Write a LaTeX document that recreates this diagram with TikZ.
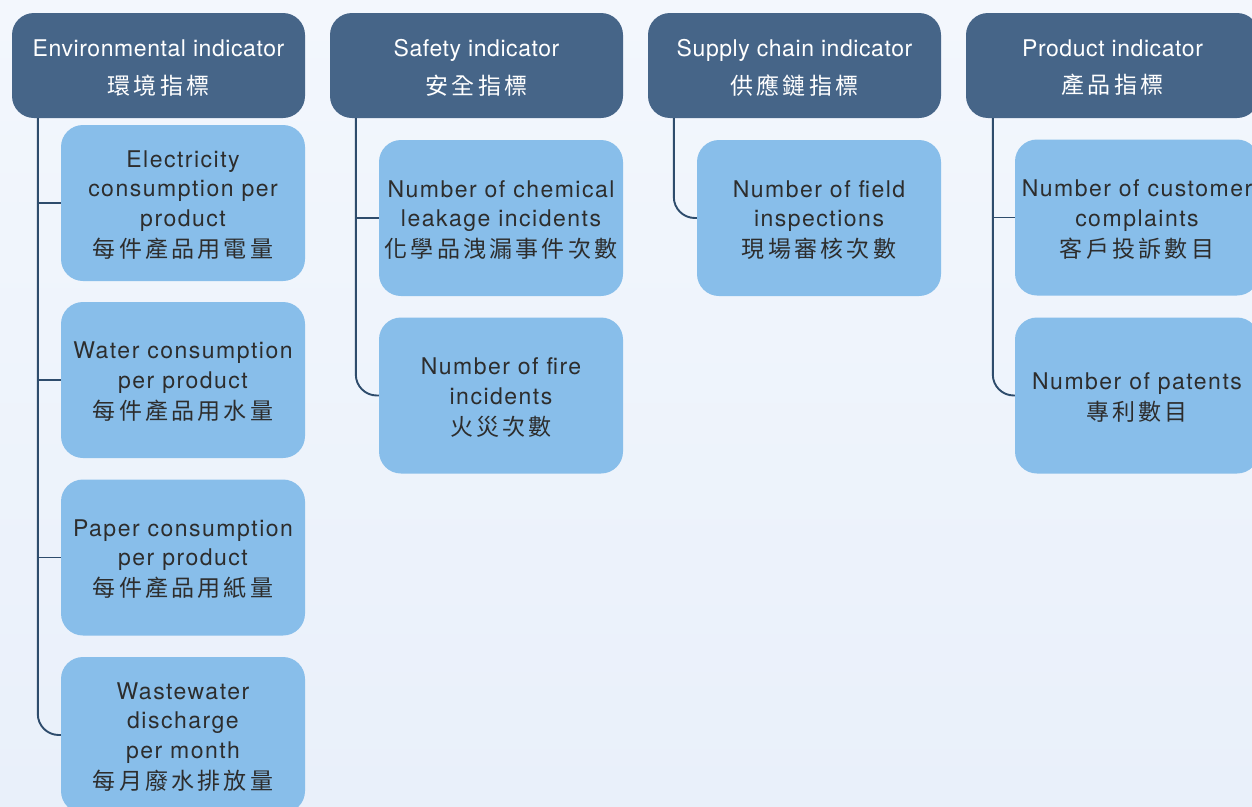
\documentclass[tikz,border=0pt]{standalone}
\usepackage{fontspec}
\setmainfont[LetterSpace=2.5]{TeX Gyre Heros}
\newfontfamily\cjk[LetterSpace=14]{Noto Sans CJK TC}
\newcommand{\hdstrut}{\rule{0pt}{21.5pt}}
\newcommand{\chstrut}{\rule{0pt}{20.5pt}}
\definecolor{bgtop}{RGB}{243,247,253}
\definecolor{bgbot}{RGB}{233,240,250}
\definecolor{headfill}{RGB}{70,101,136}
\definecolor{childfill}{RGB}{136,190,234}
\definecolor{conncol}{RGB}{46,76,108}
\definecolor{childtext}{RGB}{45,45,45}
\begin{document}
\begin{tikzpicture}[x=1pt,y=-1pt,
  headbox/.style={fill=headfill,rounded corners=22pt,minimum width=293pt,minimum height=105pt,
    inner sep=0pt,text=white,align=center,font=\fontsize{23}{30}\selectfont},
  childbox/.style={fill=childfill,rounded corners=22pt,minimum width=244pt,minimum height=156pt,
    inner sep=0pt,text=childtext,align=center,font=\fontsize{23}{29.5}\selectfont\addfontfeature{LetterSpace=6.5}},
  conn/.style={draw=conncol,line width=1.9pt},
  elbowconn/.style={conn,rounded corners=21pt}]
\useasboundingbox (0,0) rectangle (1252,806);
\shade[top color=bgtop,bottom color=bgbot] (0,0) rectangle (1252,806);
\clip (0,0) rectangle (1252,806);
% headers
\node[headbox] (env) at (158.5,65.5) {\hdstrut Environmental indicator\\[7.5pt]{\cjk 環境指標}};
\node[headbox] (saf) at (476.5,65.5) {\hdstrut Safety indicator\\[7.5pt]{\cjk 安全指標}};
\node[headbox] (sup) at (794.5,65.5) {\hdstrut Supply chain indicator\\[7.5pt]{\cjk 供應鏈指標}};
\node[headbox] (prd) at (1112.5,65.5) {\hdstrut Product indicator\\[7.5pt]{\cjk 產品指標}};
% children
\node[childbox] (e1) at (183,203) {\chstrut Electricity\\consumption per\\product\\[1.5pt]{\cjk 每件產品用電量}};
\node[childbox] (e2) at (183,380) {\chstrut Water consumption\\per product\\[1.5pt]{\cjk 每件產品用水量}};
\node[childbox] (e3) at (183,557.5) {\chstrut Paper consumption\\per product\\[1.5pt]{\cjk 每件產品用紙量}};
\node[childbox] (e4) at (183,735) {\chstrut Wastewater\\discharge\\per month\\[1.5pt]{\cjk 每月廢水排放量}};
\node[childbox] (s1) at (501,218) {\chstrut Number of chemical\\leakage incidents\\[1.5pt]{\cjk 化學品洩漏事件次數}};
\node[childbox] (s2) at (501,395.5) {\chstrut Number of fire\\incidents\\[1.5pt]{\cjk 火災次數}};
\node[childbox] (u1) at (819,218) {\chstrut Number of field\\inspections\\[1.5pt]{\cjk 現場審核次數}};
\node[childbox] (p1) at (1137,217.5) {\chstrut Number of customer\\complaints\\[1.5pt]{\cjk 客戶投訴數目}};
\node[childbox] (p2) at (1137,395.5) {\chstrut Number of patents\\[1.5pt]{\cjk 專利數目}};
% roots
\coordinate (envr) at ([xshift=26pt]env.south west);
\coordinate (safr) at ([xshift=26pt]saf.south west);
\coordinate (supr) at ([xshift=26pt]sup.south west);
\coordinate (prdr) at ([xshift=27pt]prd.south west);
% connectors
\draw[elbowconn] (envr) |- (e4.west);
\draw[conn] (envr |- e1.west) -- (e1.west);
\draw[conn] (envr |- e2.west) -- (e2.west);
\draw[conn] (envr |- e3.west) -- (e3.west);
\draw[elbowconn] (safr) |- (s2.west);
\draw[conn] (safr |- s1.west) -- (s1.west);
\draw[elbowconn] (supr) |- (u1.west);
\draw[elbowconn] (prdr) |- (p2.west);
\draw[conn] (prdr |- p1.west) -- (p1.west);
\end{tikzpicture}
\end{document}
